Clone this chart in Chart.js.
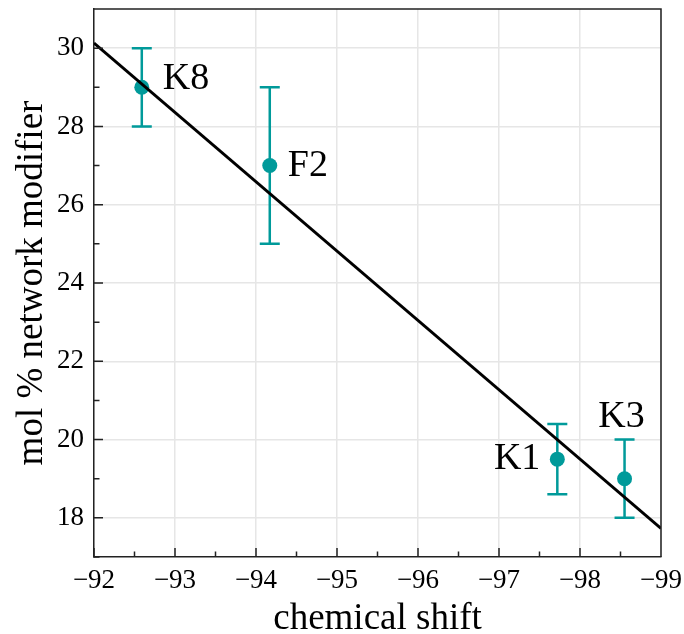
<!DOCTYPE html>
<html>
<head>
<meta charset="utf-8">
<style>
  html, body { margin: 0; padding: 0; background: #fff; }
  canvas { display: block; }
</style>
<script src="https://cdn.jsdelivr.net/npm/chart.js@4/dist/chart.umd.min.js"></script>
</head>
<body>
<canvas id="c" width="684" height="634"></canvas>
<script>
// Sample compositions vs. chemical shift
const sampleNames = ['K8', 'F2', 'K1', 'K3'];
const chemShift = [-92.59, -94.17, -97.72, -98.55];
const modifierPct = [29, 27, 19.5, 19];
const modifierErr = [1, 2, 0.9, 1];

// Linear fit endpoints across the plotted range
const fitShift = [-92, -99];
const fitPct = [30.13, 17.73];

const TEAL = '#009a9a';
const FONT = "'Liberation Serif', 'Times New Roman', serif";

// Where each sample name sits relative to its marker (px)
const labelPlacement = {
  K8: { dx: 21, dy: -8, align: 'left' },
  F2: { dx: 18, dy: 0, align: 'left' },
  K1: { dx: -17, dy: 0, align: 'right' },
  K3: { dx: -3, dy: -62, align: 'center' }
};

const errorBars = {
  id: 'errorBars',
  beforeDatasetsDraw(chart) {
    const { ctx, scales: { x, y } } = chart;
    ctx.save();
    ctx.strokeStyle = TEAL;
    ctx.lineWidth = 2.5;
    const cap = 10;
    chemShift.forEach((sx, i) => {
      const px = x.getPixelForValue(sx);
      const top = y.getPixelForValue(modifierPct[i] + modifierErr[i]);
      const bot = y.getPixelForValue(modifierPct[i] - modifierErr[i]);
      ctx.beginPath();
      ctx.moveTo(px, top); ctx.lineTo(px, bot);
      ctx.moveTo(px - cap, top); ctx.lineTo(px + cap, top);
      ctx.moveTo(px - cap, bot); ctx.lineTo(px + cap, bot);
      ctx.stroke();
    });
    ctx.restore();
  }
};

// inward major/minor ticks plus the top and right frame edges
const frameAndTicks = {
  id: 'frameAndTicks',
  afterDraw(chart) {
    const { ctx, chartArea: a, scales: { x, y } } = chart;
    ctx.save();
    ctx.strokeStyle = '#222';
    ctx.lineWidth = 1.5;
    ctx.beginPath();
    for (let v = -92; v >= -99; v -= 0.5) {
      const px = x.getPixelForValue(v);
      const len = Number.isInteger(v) ? 9 : 5.5;
      ctx.moveTo(px, a.bottom); ctx.lineTo(px, a.bottom - len);
    }
    for (let v = 17; v <= 31; v += 1) {
      const py = y.getPixelForValue(v);
      const len = v % 2 === 0 ? 9 : 5.5;
      ctx.moveTo(a.left, py); ctx.lineTo(a.left + len, py);
    }
    ctx.moveTo(a.left, a.top); ctx.lineTo(a.right, a.top); ctx.lineTo(a.right, a.bottom);
    ctx.stroke();
    ctx.restore();
  }
};

const sampleLabels = {
  id: 'sampleLabels',
  afterDatasetsDraw(chart) {
    const { ctx, scales: { x, y } } = chart;
    ctx.save();
    ctx.fillStyle = '#000';
    ctx.font = '38px ' + FONT;
    ctx.textBaseline = 'middle';
    sampleNames.forEach((name, i) => {
      const p = labelPlacement[name];
      ctx.textAlign = p.align;
      ctx.fillText(name, x.getPixelForValue(chemShift[i]) + p.dx,
                   y.getPixelForValue(modifierPct[i]) + p.dy);
    });
    ctx.restore();
  }
};

const fmt = v => (v < 0 ? '\u2212' + Math.abs(v) : String(v));

new Chart(document.getElementById('c'), {
  data: {
    datasets: [
      {
        type: 'line',
        data: fitShift.map((v, i) => ({ x: v, y: fitPct[i] })),
        borderColor: '#000',
        borderWidth: 3,
        pointRadius: 0,
        fill: false,
        order: 0
      },
      {
        type: 'scatter',
        data: chemShift.map((v, i) => ({ x: v, y: modifierPct[i] })),
        backgroundColor: TEAL,
        borderColor: TEAL,
        pointRadius: 7.5,
        borderWidth: 0,
        order: 1
      }
    ]
  },
  options: {
    responsive: false,
    animation: false,
    layout: { padding: { top: 9, right: 23, left: 0, bottom: 0 } },
    plugins: { legend: { display: false }, tooltip: { enabled: false } },
    scales: {
      x: {
        type: 'linear',
        reverse: true,
        min: -99,
        max: -92,
        afterFit(s) { s.height = 77; s.paddingLeft = 0; s.paddingRight = 0; },
        ticks: {
          stepSize: 1,
          autoSkip: false,
          maxRotation: 0,
          padding: 8,
          color: '#000',
          font: { family: FONT, size: 27 },
          callback: v => fmt(v)
        },
        grid: { color: '#e6e6e6', lineWidth: 1.5, drawTicks: false },
        border: { display: true, color: '#222', width: 1.5 },
        title: {
          display: true,
          text: 'chemical shift',
          color: '#000',
          font: { family: FONT, size: 37, lineHeight: 0.8 },
          padding: { top: 0, bottom: 0 }
        }
      },
      y: {
        type: 'linear',
        min: 17,
        max: 31,
        afterFit(s) { s.width = 94; s.paddingTop = 0; s.paddingBottom = 0; },
        ticks: {
          stepSize: 1,
          autoSkip: false,
          padding: 10,
          color: '#000',
          font: { family: FONT, size: 27 },
          callback: v => (v % 2 === 0 ? fmt(v) : '')
        },
        grid: {
          color: ctx => (ctx.tick && ctx.tick.value % 2 === 0 ? '#e6e6e6' : 'rgba(0,0,0,0)'),
          lineWidth: 1.5,
          drawTicks: false
        },
        border: { display: true, color: '#222', width: 1.5 },
        title: {
          display: true,
          text: 'mol % network modifier',
          color: '#000',
          font: { family: FONT, size: 37, lineHeight: 1 },
          padding: { top: 14, bottom: 0 }
        }
      }
    }
  },
  plugins: [errorBars, frameAndTicks, sampleLabels]
});
</script>
</body>
</html>
